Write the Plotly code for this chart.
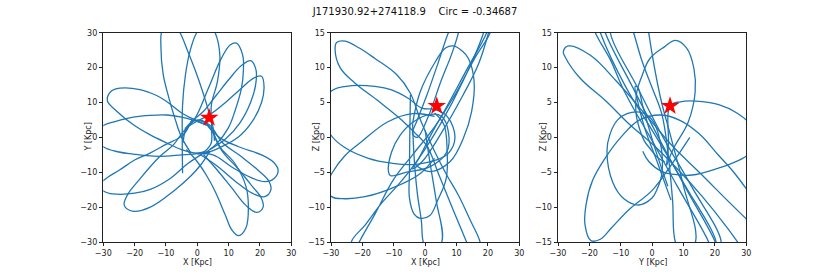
import plotly.graph_objects as go

# ---------------- data ----------------
title_text = "J171930.92+274118.9\u00a0\u00a0\u00a0\u00a0Circ = -0.34687"
x_ticks = [-30, -20, -10, 0, 10, 20, 30]
y_ticks_xy = [-30, -20, -10, 0, 10, 20, 30]
z_ticks = [-15, -10, -5, 0, 5, 10, 15]

star_xy = (3.8, 5.6)
star_xz = (3.7, 4.5)
star_yz = (5.7, 4.5)

# X-Y projection, traced petal by petal
xy_ta = [(-2,-4.5),(-5,0),(-7,5),(-9.1,11.4),(-10.9,18.1),(-11.6,25.7),(-11.2,31),(-8.5,34),(-5.5,30),(-3.1,24.8),(-0.2,18.1),(2,12.3),(3.6,7.6),(5,3),(5.5,-1)]
xy_tb = [(1,-5),(4.3,-2),(4.6,2),(4.5,9.3),(6.4,15.9),(7.2,23.5),(5.7,30),(3,33.5),(-0.2,30),(-2.3,24.8),(-3.8,17.8),(-4.7,9.3),(-4.8,0),(-4.7,-10.3)]
xy_ura = [(-4.5,-1.5),(-3.5,2.8),(-0.7,5.5),(3.5,14),(7.7,22.7),(10.5,26.5),(12.5,27),(14.5,23.5),(14.7,19),(14.1,14.1),(12,7.5),(9.9,2.7),(6.5,-1.5),(2,-4.8)]
xy_urb = [(-4.5,0.5),(-2,4.3),(2,7.5),(6,12),(10,16.5),(14,20.5),(17,22),(18.7,19.5),(18.6,15),(17,10),(13.5,4),(9,-0.5),(4,-3.5)]
xy_urc = [(-4,2.5),(0,4.7),(4,6.5),(9,10),(14,14),(18,17),(20.5,17.5),(21.3,14.5),(20.5,10),(17.5,4.5),(13,0),(7,-3),(2,-4.8)]
xy_dra = [(-2,4.8),(2,4.5),(7,0),(13.2,-2.7),(20.7,-5.1),(24.5,-7.3),(25.8,-9.5),(24.5,-11.8),(21.6,-12.7),(17,-11.5),(11,-8.5),(5,-5),(0,-4.8)]
xy_drb = [(0,5),(4,3.5),(8,-1.5),(14,-5.5),(19.5,-9.5),(22.8,-12.5),(23.5,-15),(21.5,-17),(17.5,-16),(12,-12.5),(6,-8),(1,-5)]
xy_drc = [(1.5,5),(4.5,2),(8,-4),(13,-9),(17.5,-14),(20.5,-17.5),(21,-20),(19,-21.5),(15.5,-19.5),(11,-14.5),(6,-9),(2,-5)]
xy_db = [(-3.5,-3.5),(0,-7),(3,-11),(5.7,-15.5),(8.9,-22.2),(11,-26.5),(13.2,-28.2),(15.5,-26),(16.3,-20),(15.5,-14),(12,-7.5),(7,-2.5),(5,2)]
xy_l4 = [(-1,4.8),(-4.6,1.5),(-7.5,-2),(-12,-5.5),(-18.3,-11.9),(-22.3,-16.5),(-23.3,-19.5),(-20.4,-21.2),(-15,-20),(-7.7,-15.5),(-2,-11),(1,-8),(4,-4)]
xy_l3 = [(-2,4.6),(-4.5,0.7),(-10,-2),(-15.1,-4.5),(-20,-6.5),(-24.7,-9.3),(-29,-11.7),(-31.5,-14),(-29,-15.8),(-25.7,-16.3),(-20,-16),(-15,-14.9),(-9,-12),(-3,-7.5),(1.5,-4.8)]
xy_l2 = [(3,3.5),(-1,4.8),(-5,5.8),(-9.8,6.4),(-15,6.3),(-20.4,5.8),(-26,4.6),(-30,3.4),(-32.5,0.5),(-30,-2.7),(-25,-4.2),(-20.4,-4.8),(-14,-5.4),(-9.8,-5.4),(-5,-5),(-1.3,-4.8),(2.5,-4)]
xy_l1 = [(4,-4),(0,-4.5),(-5,-3.5),(-10,-1.5),(-15,0.7),(-20.4,3.6),(-25.7,7.5),(-28.7,10.5),(-27.5,13.2),(-24.7,14.1),(-18.3,13.7),(-13,12),(-9.8,10.3),(-5,7),(-0.2,4.8),(3,3.5)]

# X-Z projection
xz_ulr = [(18,-17),(17.5,-15),(14.5,-12),(10.6,-8.3),(7,-5.5),(3.1,-2.1),(-1.5,2.5),(-4.8,6.4),(-9.1,9.0),(-16,11.3),(-21,12.8),(-25.5,13.8),(-28.2,13.6),(-28.7,12.6),(-27.1,10),(-22.4,7.8),(-14.9,5.2),(-7.5,2.5),(-3.2,0.6),(0.5,-1.2),(4.5,-5.5),(9,-10.5),(13.2,-15),(15,-17)]
xz_diag = [(21.5,17),(20.7,15),(16,11.5),(10,6.5),(3,1.5),(-4,-2.5),(-10,-6),(-16,-11),(-21,-15),(-22.5,-16.5),(-23.5,-15),(-19,-12.5),(-14,-9.5),(-8,-6.5),(-2,-3),(5,2),(12,8),(18.6,15),(19.5,17)]
xz_top1 = [(20.5,16.5),(19.6,15),(13,9.5),(7,4.5),(2,0.5),(-2,-3),(-4,-4.5),(-1,-3.5),(5,0.5),(12,6),(17,10.5),(20.2,15),(21,16.5)]
xz_top2 = [(9,16.5),(7.4,15),(4,10.5),(0.5,6),(-2.5,2.5),(-4,0.5),(-2.5,0),(1,3),(5,8),(8.5,12),(10.6,15),(11,16.5)]
xz_c1 = [(-11.7,-4.9),(-10.7,-2.1),(-8,0.3),(-3.8,2.2),(1.6,3.3),(5.3,3),(7.4,0.8),(6.9,-2.1),(1.6,-4.2),(-5.9,-5),(-11,-5.5),(-11.7,-4.9)]
xz_c2 = [(-4.7,6.1),(-4.9,0),(-5,-5),(-5,-8.7),(-3.5,-11),(-1.6,-11.6),(1.5,-11.2),(4,-9),(6.7,-5.9),(7,-2),(6,1.8),(3,3.5)]
xz_c3 = [(-4,2),(-1.6,6.5),(3.2,10.8),(6.5,12.8),(9,13.1),(12,12.3),(13.8,11.3),(15.6,8),(14.8,3.7),(12.2,-0.1),(7.9,-3.5),(1.6,-4.9),(-3,-4)]
xz_left = [(7,3),(3,4),(-1.1,4.2),(-5.4,5.6),(-10.7,6.8),(-16,7.3),(-23.4,7.4),(-30,6.6),(-33,3.5),(-30,0.3),(-25.5,-1.5),(-18.1,-3.0),(-10.7,-3.7),(-4.3,-3.9),(3.1,-3.3),(7.4,-2.3),(9.5,0),(7,3)]
xz_ll = [(3,3),(-4,3.4),(-12,2.2),(-20.2,-0.6),(-25.5,-2.6),(-29.5,-5),(-31.5,-7),(-29.8,-8.5),(-25.5,-8.8),(-19.2,-8.5),(-10.7,-7.3),(-2.2,-5.4),(3,-3)]
xz_bot = [(-4,2),(-3.5,-3),(-2.5,-8),(-1.2,-12),(-0.6,-15),(1.5,-17),(5.3,-15),(3.5,-9),(1.5,-3.5),(0,1)]

# Y-Z projection
yz_ul = [(28,-15.5),(24,-13),(16,-8.5),(8,-4.5),(0.4,-1.1),(-7.1,1.8),(-14.5,5.1),(-23,8.5),(-27.8,11.6),(-28.3,12.3),(-26.7,13.1),(-19.8,11.8),(-11.3,8),(-3.9,4.2),(2.5,0.8),(7,-1.5),(15,-5),(25,-9.5),(33,-13)]
yz_sr = [(4.6,-4),(5.2,-1),(5.7,4.5),(9,5.1),(13.8,5.2),(21.2,4.7),(27,3.5),(31,2),(33,0),(31,-2.3),(25,-3.8),(21.2,-4.4),(12.7,-5.4),(7,-5.3),(3.1,-4.9),(-1,-3.5),(-3,-2)]
yz_ur3 = [(4.6,-4),(6.8,-1.6),(11.5,2.2),(13.7,6.5),(13.3,9.9),(11,12.8),(7.4,13.9),(4,13),(-0.7,11.3),(-3.5,8.5),(-4.9,6.5),(-5.2,3.7),(-4.4,1.8),(-2.5,-0.5),(-0.7,-1.6),(2,-3),(4,-3.5)]
yz_me = [(3.1,-5.2),(1.5,-7.5),(-0.05,-8.7),(-4.3,-9.7),(-9,-8.8),(-12.5,-6.5),(-14.4,-2),(-13.4,0.5),(-11,2.5),(-8,3.4),(-3.9,3.6),(0,2.5),(2.5,-0.5),(3.1,-5.2)]
yz_bl = [(12,0),(6,-4),(0,-7.6),(-7.5,-10.4),(-13,-13),(-16.5,-14.6),(-19.5,-14.8),(-21.4,-12.5),(-21,-9.5),(-19,-6.2),(-15,-3),(-10,0),(-4,2.5),(3,3.2),(9,2.4),(15,0.5),(21,-2.5),(26,-5),(31,-8)]
yz_tla = [(-19,16.5),(-18.1,15),(-13.3,11.1),(-9.6,7.3),(-5.4,3.7),(-1.1,0.4),(8,-7),(18,-15),(19,-16.5),(20.5,-15.5),(10,-6.5),(0,1),(-8.5,7.3),(-16.5,15),(-17.5,16.5)]
yz_tlb = [(-15.5,16.5),(-14.9,15),(-6,7),(2,0),(11,-7.5),(20.1,-15),(21,-16.5),(22,-15),(12.5,-7),(3.5,0),(-4.5,7),(-13.3,15),(-12.5,16.5)]
yz_tlc = [(-7,16.5),(-5.9,15),(-3.2,10.9),(0,7.1),(3.1,3.3),(5,-2),(6.5,-9),(7.4,-15),(10,-17),(13.8,-15),(10,-7),(6,0),(2.5,6),(-1.1,15),(-1.5,16.5)]
yz_small = [(6,-9),(2,-4),(-2.5,1.5),(-4.8,5.5),(-5.4,7.3),(-4.6,7.2),(-3,4.5),(0.5,-1),(5,-7)]

xy_strokes = [xy_l2, xy_l1, xy_urc, xy_drc, xy_l4, xy_ura, xy_dra, xy_db, xy_l3, xy_ta, xy_urb, xy_drb, xy_tb]
xz_strokes = [xz_ulr, xz_diag, xz_top1, xz_top2, xz_c1, xz_c2, xz_c3, xz_left, xz_ll, xz_bot]
yz_strokes = [yz_ul, yz_sr, yz_ur3, yz_me, yz_bl, yz_tla, yz_tlb, yz_tlc, yz_small]

# ---------------- figure ----------------
BLUE = "#1f77b4"
FONT = "DejaVu Sans, Arial, sans-serif"
W, H = 830, 277


def flatten(strokes):
    xs, ys = [], []
    for s in strokes:
        for a, b in s:
            xs.append(a)
            ys.append(b)
        xs.append(None)
        ys.append(None)
    return xs, ys


fig = go.Figure()
panels = [
    (xy_strokes, star_xy, "x", "y", "X [Kpc]", "Y [Kpc]"),
    (xz_strokes, star_xz, "x2", "y2", "X [Kpc]", "Z [Kpc]"),
    (yz_strokes, star_yz, "x3", "y3", "Y [Kpc]", "Z [Kpc]"),
]
for strokes, star, xa, ya, _, _ in panels:
    xs, ys = flatten(strokes)
    fig.add_trace(go.Scatter(x=xs, y=ys, xaxis=xa, yaxis=ya, mode="lines",
                             line=dict(color=BLUE, width=1.3, shape="spline", smoothing=1.1),
                             connectgaps=False, hoverinfo="skip", showlegend=False))
    fig.add_trace(go.Scatter(x=[star[0]], y=[star[1]], xaxis=xa, yaxis=ya, mode="markers",
                             marker=dict(symbol="star", size=14, color="red", line=dict(width=0)),
                             hoverinfo="skip", showlegend=False))

lefts = [103.3, 331.0, 558.0]
rights = [291.3, 519.3, 746.3]
x_domains = [[l / W, r / W] for l, r in zip(lefts, rights)]
y_domain = [1 - 242.0 / H, 1 - 32.7 / H]

axis_common = dict(showline=True, mirror=True, linecolor="#222", linewidth=0.9,
                   ticks="outside", ticklen=3.5, tickwidth=0.9, tickcolor="#222",
                   showgrid=False, zeroline=False, automargin=False,
                   tickfont=dict(family=FONT, size=8, color="#222"))

annotations = []
layout = dict(
    width=W, height=H,
    margin=dict(l=0, r=0, t=0, b=0),
    paper_bgcolor="white", plot_bgcolor="white",
    title=dict(text=title_text, x=0.5, xanchor="center", y=1 - 11 / H, yanchor="middle",
               font=dict(family=FONT, size=10, color="#111")),
    showlegend=False,
)
for i, (strokes, star, xa, ya, xt, yt) in enumerate(panels):
    xkey = "xaxis" if i == 0 else f"xaxis{i+1}"
    ykey = "yaxis" if i == 0 else f"yaxis{i+1}"
    yr = [-30, 30] if i == 0 else [-15, 15]
    yt_vals = y_ticks_xy if i == 0 else z_ticks
    layout[xkey] = dict(axis_common, domain=x_domains[i], range=[-30, 30], tickvals=x_ticks, anchor=ya)
    layout[ykey] = dict(axis_common, domain=y_domain, range=yr, tickvals=yt_vals, anchor=xa)
    annotations.append(dict(text=xt, xref="paper", yref="paper",
                            x=(lefts[i] + rights[i]) / 2 / W, y=1 - 262 / H,
                            xanchor="center", yanchor="middle", showarrow=False,
                            font=dict(family=FONT, size=8, color="#222")))
    annotations.append(dict(text=yt, xref="paper", yref="paper",
                            x=(lefts[i] - 15) / W, y=1 - 137.3 / H, textangle=-90,
                            xanchor="center", yanchor="middle", showarrow=False,
                            font=dict(family=FONT, size=8, color="#222")))
layout["annotations"] = annotations
fig.update_layout(**layout)
fig.write_html("out.html", config={"displayModeBar": False},
               post_script="document.body.style.margin='0px';document.body.style.padding='0px';")
